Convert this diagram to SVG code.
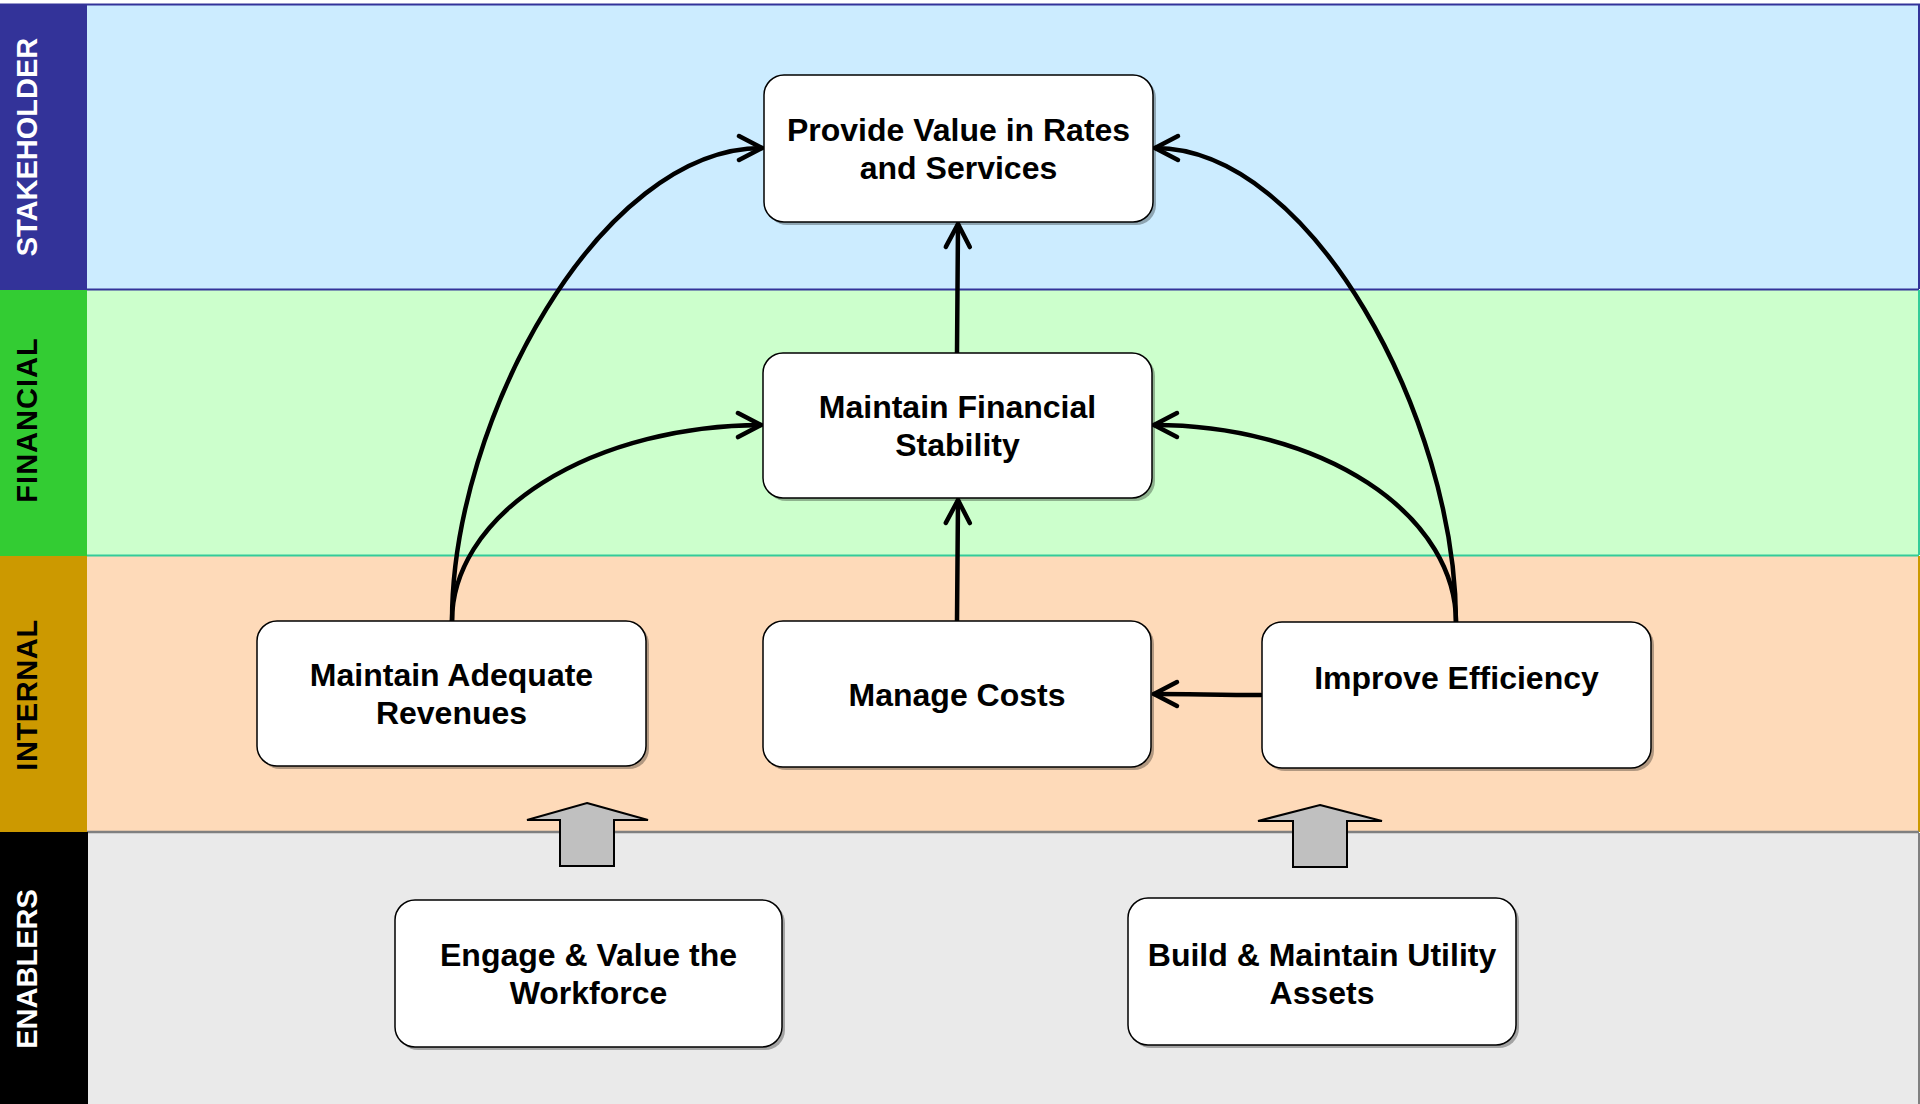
<svg xmlns="http://www.w3.org/2000/svg" width="1920" height="1104" viewBox="0 0 1920 1104">
  <defs>
    <style>
      .lane-label { font-family: "Liberation Sans", Arial, sans-serif; font-size: 29px; font-weight: bold; text-anchor: middle; }
      .node-box { fill: #FFFFFF; stroke: #000000; stroke-width: 1.5; }
      .node-shadow { fill: #000000; fill-opacity: 0.3; }
      .node-text { font-family: "Liberation Sans", Arial, sans-serif; font-size: 32px; font-weight: bold; text-anchor: middle; fill: #000000; }
      .edge { fill: none; stroke: #000000; stroke-width: 4.5; stroke-linecap: round; marker-end: url(#open-arrow); }
      .block-arrow { fill: #C0C0C0; stroke: #000000; stroke-width: 2; stroke-linejoin: miter; }
    </style>
    <marker id="open-arrow" markerUnits="userSpaceOnUse" viewBox="-28 -16 32 32" markerWidth="32" markerHeight="32" refX="0" refY="0" orient="auto">
      <path d="M -23 -12 L 0 0 L -23 12" fill="none" stroke="#000000" stroke-width="4.5" stroke-linecap="round" stroke-linejoin="round"/>
    </marker>
  </defs>

  <!-- swim lanes -->
  <g id="lanes">
    <rect x="87" y="4" width="1832" height="285" fill="#CCECFF"/>
    <rect x="87" y="289" width="1832" height="266" fill="#CCFFCC"/>
    <rect x="87" y="555" width="1832" height="277" fill="#FEDAB9"/>
    <rect x="87" y="832" width="1832" height="272" fill="#EAEAEA"/>

    <!-- lane borders -->
    <path d="M 0 4.5 H 1919 V 289" fill="none" stroke="#333399" stroke-width="2"/>
    <line x1="87" y1="289.5" x2="1919" y2="289.5" stroke="#333399" stroke-width="2"/>
    <line x1="1919" y1="290" x2="1919" y2="555" stroke="#33CC99" stroke-width="2"/>
    <line x1="87" y1="555.5" x2="1919" y2="555.5" stroke="#33CC99" stroke-width="2"/>
    <line x1="1919" y1="556" x2="1919" y2="832" stroke="#CC9900" stroke-width="2"/>
    <line x1="87" y1="832" x2="1919" y2="832" stroke="#808080" stroke-width="2.5"/>
    <line x1="1919" y1="833" x2="1919" y2="1104" stroke="#808080" stroke-width="2"/>

    <!-- lane header bands -->
    <rect x="0" y="5" width="87" height="285" fill="#333399"/>
    <rect x="0" y="290" width="87" height="266" fill="#33CC33"/>
    <rect x="0" y="556" width="87" height="276" fill="#CC9900"/>
    <rect x="0" y="832" width="88" height="272" fill="#000000"/>

    <text class="lane-label" transform="translate(37,147) rotate(-90)" fill="#FFFFFF">STAKEHOLDER</text>
    <text class="lane-label" transform="translate(37,420) rotate(-90)" fill="#000000" letter-spacing="1">FINANCIAL</text>
    <text class="lane-label" transform="translate(37,695) rotate(-90)" fill="#000000" letter-spacing="0.6">INTERNAL</text>
    <text class="lane-label" transform="translate(37,969) rotate(-90)" fill="#FFFFFF">ENABLERS</text>
  </g>

  <!-- connectors -->
  <g id="connectors">
    <path class="edge" d="M 957 353 L 958 224"/>
    <path class="edge" d="M 957 621 L 958 500"/>
    <path class="edge" d="M 1261 695 C 1220 695 1190 694 1154 694"/>
    <path class="edge" d="M 452 621 A 311 196 0 0 1 761 425"/>
    <path class="edge" d="M 452 621 C 452 420 600 148 762 148"/>
    <path class="edge" d="M 1456 622 A 302 197 0 0 0 1154 425"/>
    <path class="edge" d="M 1456 622 C 1456 420 1312 148 1155 148"/>

    <!-- enabler block arrows -->
    <polygon class="block-arrow" points="587,803 648,820 614,820 614,866 560,866 560,820 527,820"/>
    <polygon class="block-arrow" points="1320,805 1382,821 1347,821 1347,867 1293,867 1293,821 1258,821"/>
  </g>

  <!-- nodes -->
  <g id="node-provide-value">
    <rect class="node-shadow" x="767" y="78" width="389" height="147" rx="20"/>
    <rect class="node-box" x="764" y="75" width="389" height="147" rx="20"/>
    <text class="node-text" x="958.5" y="141">Provide Value in Rates</text>
    <text class="node-text" x="958.5" y="179">and Services</text>
  </g>

  <g id="node-financial-stability">
    <rect class="node-shadow" x="766" y="356" width="389" height="145" rx="20"/>
    <rect class="node-box" x="763" y="353" width="389" height="145" rx="20"/>
    <text class="node-text" x="957.5" y="418">Maintain Financial</text>
    <text class="node-text" x="957.5" y="456">Stability</text>
  </g>

  <g id="node-adequate-revenues">
    <rect class="node-shadow" x="260" y="624" width="389" height="145" rx="20"/>
    <rect class="node-box" x="257" y="621" width="389" height="145" rx="20"/>
    <text class="node-text" x="451.5" y="686">Maintain Adequate</text>
    <text class="node-text" x="451.5" y="724">Revenues</text>
  </g>

  <g id="node-manage-costs">
    <rect class="node-shadow" x="766" y="624" width="388" height="146" rx="20"/>
    <rect class="node-box" x="763" y="621" width="388" height="146" rx="20"/>
    <text class="node-text" x="957" y="706">Manage Costs</text>
  </g>

  <g id="node-improve-efficiency">
    <rect class="node-shadow" x="1265" y="625" width="389" height="146" rx="20"/>
    <rect class="node-box" x="1262" y="622" width="389" height="146" rx="20"/>
    <text class="node-text" x="1456.5" y="689">Improve Efficiency</text>
  </g>

  <g id="node-workforce">
    <rect class="node-shadow" x="398" y="903" width="387" height="147" rx="20"/>
    <rect class="node-box" x="395" y="900" width="387" height="147" rx="20"/>
    <text class="node-text" x="588.5" y="966">Engage &amp; Value the</text>
    <text class="node-text" x="588.5" y="1004">Workforce</text>
  </g>

  <g id="node-utility-assets">
    <rect class="node-shadow" x="1131" y="901" width="388" height="147" rx="20"/>
    <rect class="node-box" x="1128" y="898" width="388" height="147" rx="20"/>
    <text class="node-text" x="1322" y="966">Build &amp; Maintain Utility</text>
    <text class="node-text" x="1322" y="1004">Assets</text>
  </g>
</svg>
